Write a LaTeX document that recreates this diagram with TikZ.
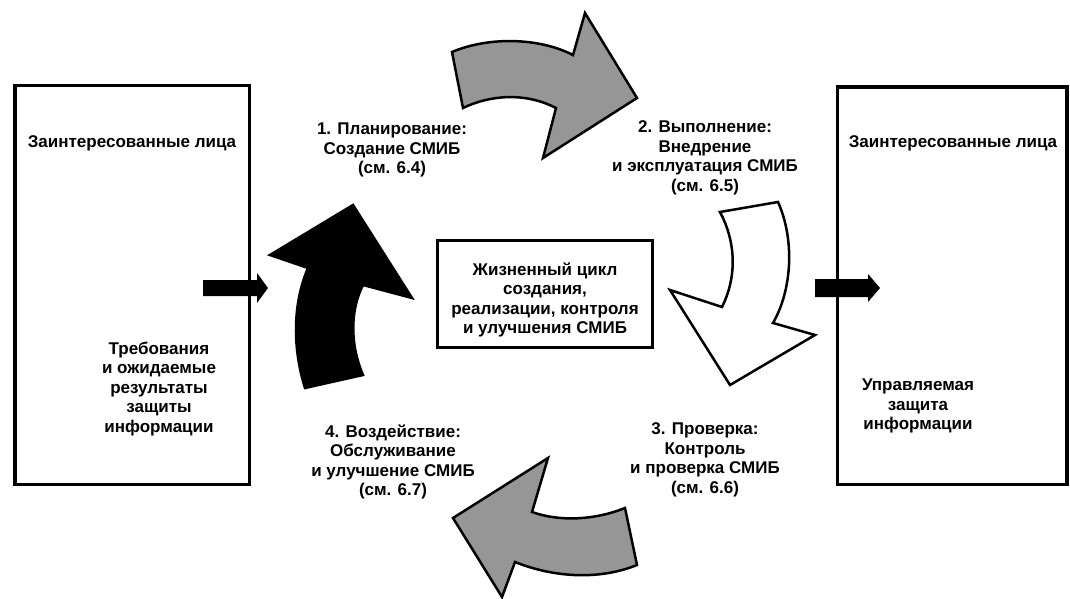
\documentclass[tikz,border=0pt]{standalone}
\usepackage{fontspec}
\setmainfont{Liberation Sans}
\definecolor{arrowgray}{RGB}{150,150,150}
\begin{document}
\begin{tikzpicture}[x=1pt,y=-1pt,
  lbl/.style={font=\fontsize{17}{19.5}\selectfont\bfseries, align=center, inner sep=0pt},
  bigbox/.style={draw, line width=3.5pt, inner sep=0pt},
  cyclearrow/.style={draw, line width=2.5pt, line join=miter},
  smallarrow/.style={fill=black}]
\useasboundingbox (0,0) rectangle (1070,599);
\fill[white] (0,0) rectangle (1070,599);

% boxes
\node[bigbox, minimum width=234.5pt, minimum height=399pt] (leftbox) at (132.25,285) {};
\node[bigbox, minimum width=229.5pt, minimum height=397.5pt] (rightbox) at (952.25,285.75) {};
\node[bigbox, minimum width=215pt, minimum height=107pt] (centerbox) at (545,294) {};

% texts
\node[lbl] (ltitle) at (132,143) {Заинтересованные лица};
\node[lbl] (ltext) at (159,389) {Требования\\и ожидаемые\\результаты\\защиты\\информации};
\node[lbl] (rtitle) at (953,143) {Заинтересованные лица};
\node[lbl] (rtext) at (918,406) {Управляемая\\защита\\информации};
\node[lbl] (ctext) at (545,300) {Жизненный цикл\\создания,\\реализации, контроля\\и улучшения СМИБ};
\node[lbl] (plan) at (392,150) {1. Планирование:\\Создание СМИБ\\(см. 6.4)};
\node[lbl] (do) at (705,158) {2. Выполнение:\\Внедрение\\и эксплуатация СМИБ\\(см. 6.5)};
\node[lbl] (check) at (705,460) {3. Проверка:\\Контроль\\и проверка СМИБ\\(см. 6.6)};
\node[lbl] (act) at (393,462) {4. Воздействие:\\Обслуживание\\и улучшение СМИБ\\(см. 6.7)};

% small input/output arrows
\fill[smallarrow] (203,280) -- (257,280) -- (257,273) -- (268,288) -- (257,303) -- (257,296) -- (203,296) -- cycle;
\fill[smallarrow] (815,279) -- (868,279) -- (868,274) -- (880,288) -- (868,302) -- (868,297) -- (815,297) -- cycle;

% cycle arrows
% top (plan -> do), gray
\path[cyclearrow, fill=arrowgray] (452,52) .. controls (490,36) and (540,38) .. (573,55)
  -- (585,13) -- (637,98) -- (543,158) -- (556,108)
  .. controls (525,92) and (490,95) .. (463,108) -- cycle;
% right (do -> check), white
\path[cyclearrow, fill=white] (720,212) -- (778,202)
  .. controls (795,240) and (792,290) .. (773,323)
  -- (815,335) -- (730,385) -- (670,290) -- (722,307)
  .. controls (738,275) and (735,240) .. (720,212) -- cycle;
% bottom (check -> act), gray
\path[cyclearrow, fill=arrowgray] (625,508) -- (637,565)
  .. controls (600,580) and (555,578) .. (515,562)
  -- (502,597) -- (453,518) -- (548,458) -- (532,512)
  .. controls (560,522) and (595,520) .. (625,508) -- cycle;
% left (act -> plan), black
\path[cyclearrow, fill=black] (305,388) -- (363,375)
  .. controls (350,345) and (350,310) .. (363,285)
  -- (412,298) -- (353,205) -- (270,255) -- (308,268)
  .. controls (292,305) and (293,350) .. (305,388) -- cycle;
\end{tikzpicture}
\end{document}
